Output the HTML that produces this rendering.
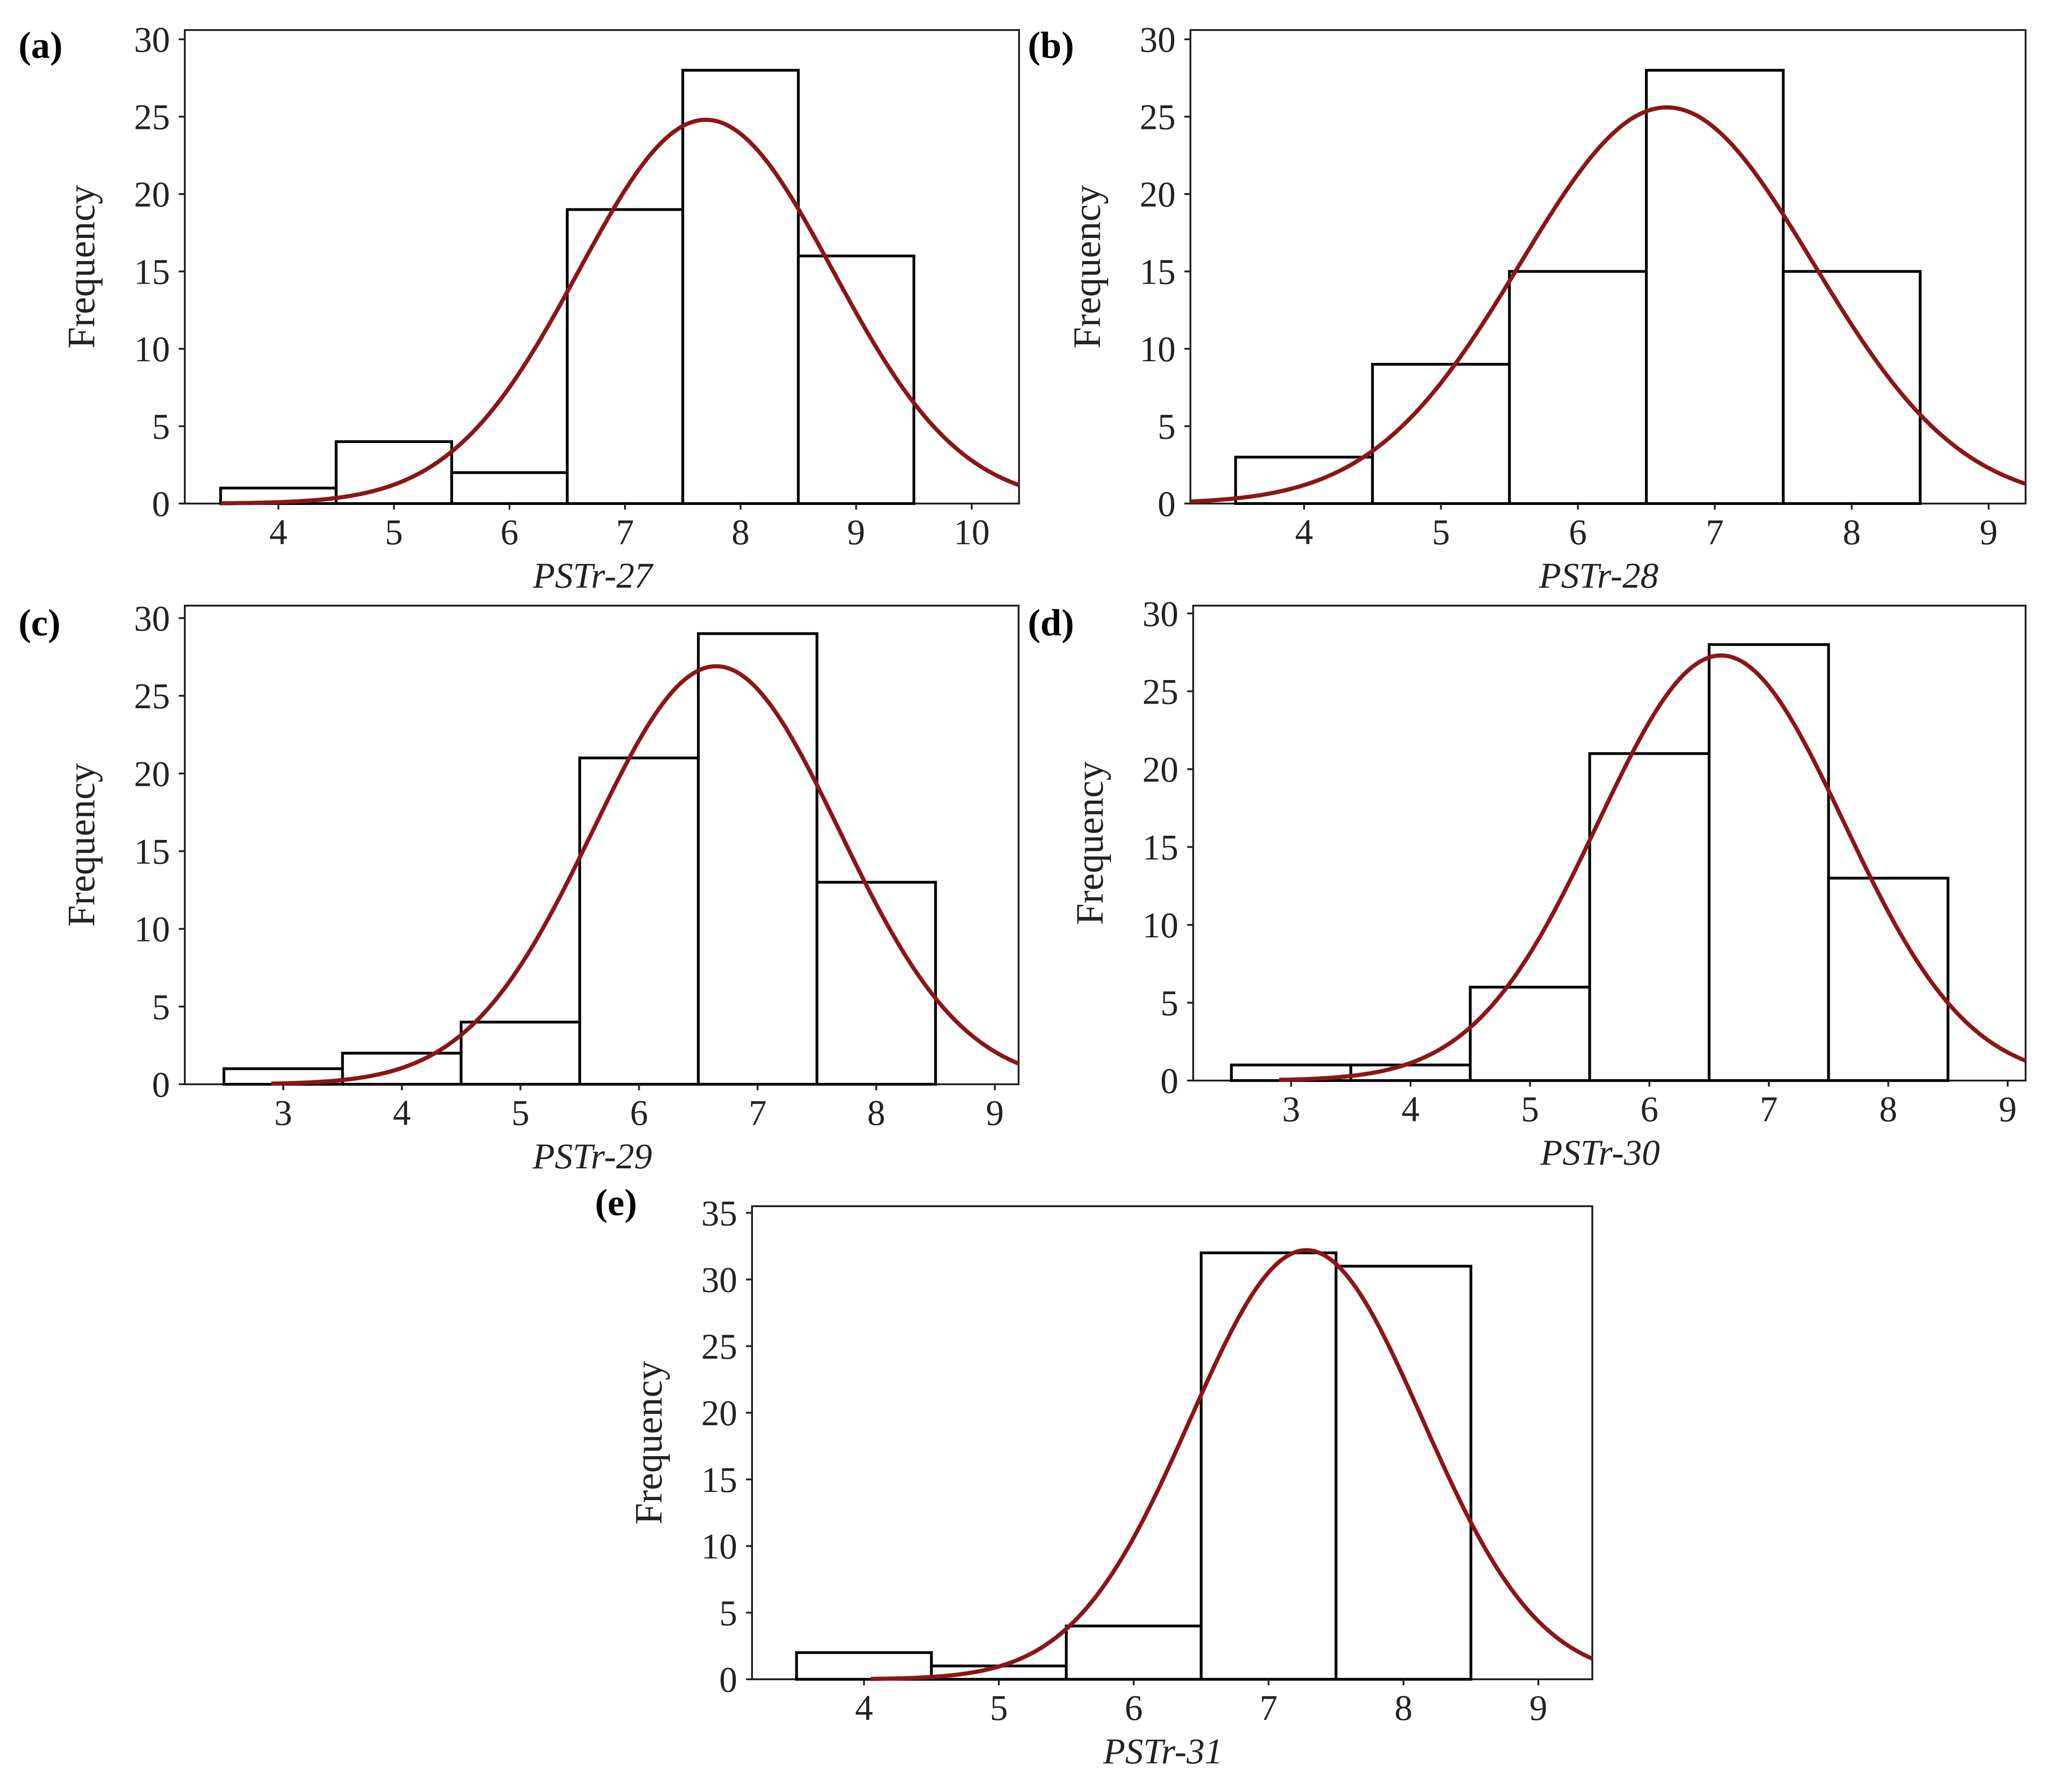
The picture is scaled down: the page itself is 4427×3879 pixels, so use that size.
<!DOCTYPE html>
<html><head><meta charset="utf-8"><style>
html,body{margin:0;padding:0;background:#fff;}
svg{display:block;}
</style></head><body>
<svg id="fig" width="4427" height="3879" viewBox="0 0 4427 3879" xmlns="http://www.w3.org/2000/svg" font-family="Liberation Serif, serif"></svg>
<script>
// Panel data
const panelLabels = ["(a)","(b)","(c)","(d)","(e)"];
const axisTitles = ["PSTr-27","PSTr-28","PSTr-29","PSTr-30","PSTr-31"];
const binStartsA = [3.5]; const countsA = [1,4,2,19,28,16];
const binStartsB = [3.5]; const countsB = [3,9,15,28,15];
const binStartsC = [2.5]; const countsC = [1,2,4,21,29,13];
const binStartsD = [2.5]; const countsD = [1,1,6,21,28,13];
const binStartsE = [3.5]; const countsE = [2,1,4,32,31];
const fitMeans = [7.7, 6.65, 6.65, 6.6, 7.28];
const fitSigmas = [1.1, 1.07, 1.04, 1.03, 0.86];
const fitPeaks = [24.8, 25.6, 26.9, 27.3, 32.2];
const fitStarts = [3.5, 3.17, 2.9, 2.9, 4.05];
const xTicksA = [4,5,6,7,8,9,10];
const xTicksB = [4,5,6,7,8,9];
const xTicksC = [3,4,5,6,7,8,9];
const xTicksD = [3,4,5,6,7,8,9];
const xTicksE = [4,5,6,7,8,9];
const yTicks30 = [0,5,10,15,20,25,30];
const yTicks35 = [0,5,10,15,20,25,30,35];

// layout (pixels)
const layouts = [
 {L:400,R:2206,T:65,B:1090,xmin:3.19,xmax:10.41,ytop:30.6,lx:40,ly:125},
 {L:2577,R:4385,T:65,B:1090,xmin:3.17,xmax:9.27,ytop:30.6,lx:2225,ly:125},
 {L:400,R:2205,T:1311,B:2347,xmin:2.17,xmax:9.2,ytop:30.8,lx:40,ly:1375},
 {L:2583,R:4385,T:1311,B:2339,xmin:2.18,xmax:9.15,ytop:30.5,lx:2225,ly:1375},
 {L:1628,R:3447,T:2611,B:3635,xmin:3.17,xmax:9.4,ytop:35.5,lx:1288,ly:2630}
];
const bins=[binStartsA,binStartsB,binStartsC,binStartsD,binStartsE];
const counts=[countsA,countsB,countsC,countsD,countsE];
const xticks=[xTicksA,xTicksB,xTicksC,xTicksD,xTicksE];
const yticks=[yTicks30,yTicks30,yTicks30,yTicks30,yTicks35];

const NS="http://www.w3.org/2000/svg";
const svg=document.getElementById('fig');
function mk(tag,attrs,parent){const e=document.createElementNS(NS,tag);for(const k in attrs)e.setAttribute(k,attrs[k]);(parent||svg).appendChild(e);return e;}

layouts.forEach((p,i)=>{
  const g=mk('g',{});
  
  
  const sx=v=>p.L+(v-p.xmin)/(p.xmax-p.xmin)*(p.R-p.L);
  const sy=v=>p.B-v/p.ytop*(p.B-p.T);
  const fr=mk('rect',{x:p.L,y:p.T,width:p.R-p.L,height:p.B-p.T,fill:'none',stroke:'#222','stroke-width':4},g);
  
  
  counts[i].forEach((c,j)=>{
    const x0=bins[i][0]+j, x1=x0+1;
    const r=mk('rect',{x:sx(x0),y:sy(c),width:sx(x1)-sx(x0),height:sy(0)-sy(c),fill:'#fff',stroke:'#000','stroke-width':6},g);
    
    
  });
  let d='';
  const n=300;
  for(let k=0;k<=n;k++){
    const x=fitStarts[i]+(p.xmax-fitStarts[i])*k/n;
    const y=fitPeaks[i]*Math.exp(-Math.pow(x-fitMeans[i],2)/(2*fitSigmas[i]*fitSigmas[i]));
    d+=(k?'L':'M')+sx(x).toFixed(1)+','+sy(y).toFixed(1);
  }
  const cv=mk('path',{d:d,fill:'none',stroke:'#8b1616','stroke-width':9},g);
  
  
  yticks[i].forEach(v=>{
    mk('line',{x1:p.L-13,x2:p.L,y1:sy(v),y2:sy(v),stroke:'#222','stroke-width':4},g);
    const t=mk('text',{x:p.L-32,y:sy(v)+27,'text-anchor':'end','font-size':78,fill:'#222'},g);
    t.textContent=v;
    
    
  });
  xticks[i].forEach(v=>{
    mk('line',{x1:sx(v),x2:sx(v),y1:p.B,y2:p.B+13,stroke:'#222','stroke-width':4},g);
    const t=mk('text',{x:sx(v),y:p.B+88,'text-anchor':'middle','font-size':78,fill:'#222'},g);
    t.textContent=v;
    
    
  });
  const xt=mk('text',{x:(p.L+p.R)/2-20,y:p.B+182,'text-anchor':'middle','font-size':78,'font-style':'italic',fill:'#222'},g);
  xt.textContent=axisTitles[i];
  
  
  const yx=p.L-196, yy=(p.T+p.B)/2;
  const yt=mk('text',{x:yx,y:yy,'text-anchor':'middle','font-size':84,fill:'#222',transform:'rotate(-90 '+yx+' '+yy+')'},g);
  yt.textContent='Frequency';
  
  
  const pl=mk('text',{x:p.lx,y:p.ly,'font-size':82,'font-weight':'bold',fill:'#000'},g);
  pl.textContent=panelLabels[i];
  
  
});
</script>
</body></html>
